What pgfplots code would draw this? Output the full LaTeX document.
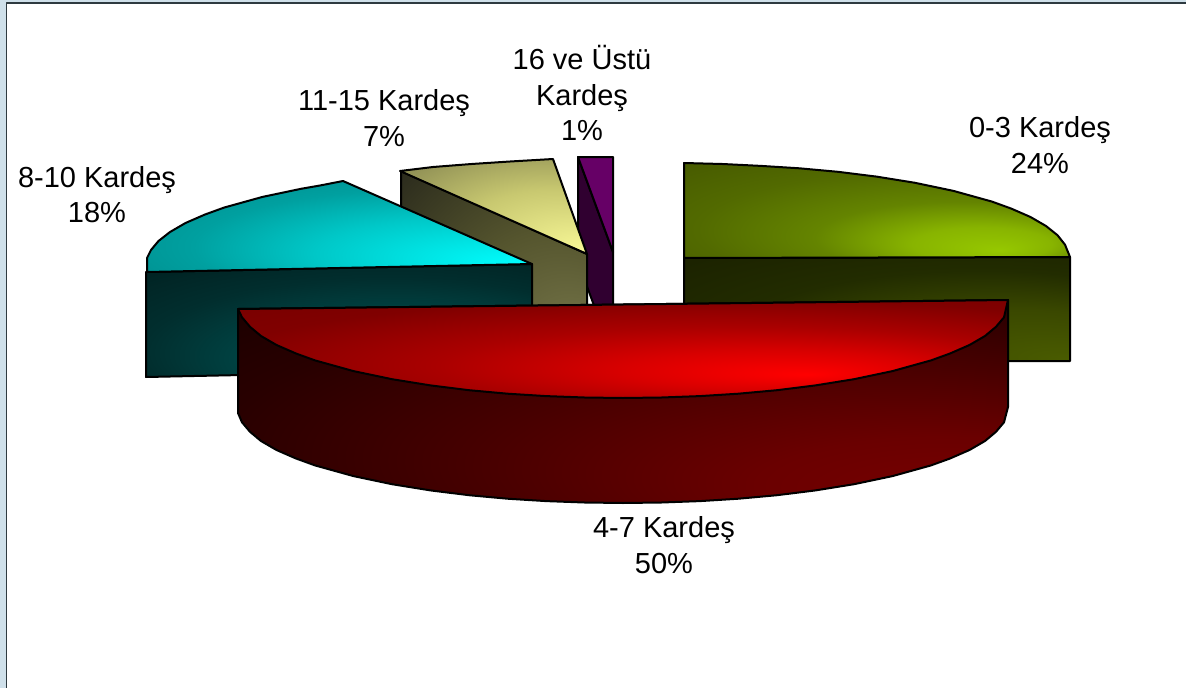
\documentclass[border=0pt]{standalone}
\usepackage{pgfplots}
\pgfplotsset{compat=1.18}
\usepackage{fontspec}
\setmainfont{Liberation Sans}
\definecolor{c00}{HTML}{96C800}\definecolor{c01}{HTML}{88B400}\definecolor{c02}{HTML}{648400}\definecolor{c03}{HTML}{526A00}\definecolor{c04}{HTML}{485C00}
\pgfdeclareradialshading{greentop}{\pgfpoint{16bp}{-21bp}}{color(0bp)=(c00);color(9bp)=(c01);color(19bp)=(c02);color(31bp)=(c03);color(42bp)=(c04);color(60bp)=(c04)}
\definecolor{s00}{HTML}{4A5C00}\definecolor{s01}{HTML}{3A4800}\definecolor{s02}{HTML}{222C00}\definecolor{s03}{HTML}{1A2000}\definecolor{s04}{HTML}{141A00}
\pgfdeclareradialshading{greenside}{\pgfpoint{25bp}{-25bp}}{color(0bp)=(s00);color(18bp)=(s01);color(32bp)=(s02);color(50bp)=(s03);color(70bp)=(s04)}
\definecolor{r00}{HTML}{FF0000}\definecolor{r01}{HTML}{D80000}\definecolor{r02}{HTML}{AA0000}\definecolor{r03}{HTML}{800000}\definecolor{r04}{HTML}{700000}
\pgfdeclareradialshading{redtop}{\pgfpoint{12bp}{-13bp}}{color(0bp)=(r00);color(10bp)=(r01);color(20bp)=(r02);color(32bp)=(r03);color(50bp)=(r04);color(60bp)=(r04)}
\definecolor{q00}{HTML}{7A0000}\definecolor{q01}{HTML}{6A0000}\definecolor{q02}{HTML}{480000}\definecolor{q03}{HTML}{280000}\definecolor{q04}{HTML}{1A0000}
\pgfdeclareradialshading{redside}{\pgfpoint{25bp}{-25bp}}{color(0bp)=(q00);color(12bp)=(q01);color(25bp)=(q02);color(38bp)=(q03);color(47bp)=(q04);color(70bp)=(q04)}
\definecolor{b00}{HTML}{00FFFF}\definecolor{b01}{HTML}{00C8C8}\definecolor{b02}{HTML}{00A0A0}\definecolor{b03}{HTML}{007F7F}
\pgfdeclareradialshading{cyantop}{\pgfpoint{24bp}{-21bp}}{color(0bp)=(b00);color(20bp)=(b01);color(32bp)=(b02);color(52bp)=(b03);color(70bp)=(b03)}
\definecolor{d00}{HTML}{005A5A}\definecolor{d01}{HTML}{004444}\definecolor{d02}{HTML}{012E2E}\definecolor{d03}{HTML}{001E1E}
\pgfdeclareradialshading{cyanside}{\pgfpoint{12bp}{-25bp}}{color(0bp)=(d00);color(20bp)=(d01);color(32bp)=(d02);color(48bp)=(d03);color(70bp)=(d03)}
\definecolor{o00}{HTML}{FAFA98}\definecolor{o01}{HTML}{C8C870}\definecolor{o02}{HTML}{7B7B4B}
\pgfdeclareradialshading{olivetop}{\pgfpoint{25bp}{-25bp}}{color(0bp)=(o00);color(25bp)=(o01);color(50bp)=(o02);color(70bp)=(o02)}
\definecolor{p00}{HTML}{7B7B4E}\definecolor{p01}{HTML}{55552E}\definecolor{p02}{HTML}{25251A}
\pgfdeclareradialshading{oliveside}{\pgfpoint{25bp}{-25bp}}{color(0bp)=(p00);color(25bp)=(p01);color(50bp)=(p02);color(70bp)=(p02)}
\definecolor{framebg}{HTML}{CFE0EA}\definecolor{frameln}{HTML}{2E3A40}
\definecolor{purptop}{HTML}{660066}\definecolor{purpside}{HTML}{300030}
\tikzset{lbl/.style={anchor=base,font=\fontsize{29}{34}\selectfont,inner sep=0pt,text=black}}
\begin{document}
\begin{tikzpicture}
\begin{axis}[
  at={(0,0)},anchor=south west,scale only axis,width=1186pt,height=688pt,
  xmin=0,xmax=1186,ymin=0,ymax=688,y dir=reverse,hide axis,clip=true,
  every axis plot/.append style={no markers,line width=2pt,draw=black,line join=round}]
% frame
\addplot[draw=none,fill=framebg] coordinates {(0,0)(1186,0)(1186,2)(6,2)(6,688)(0,688)} -- cycle;
\addplot[draw=frameln,line width=1.4pt] coordinates {(6.5,688)(6.5,3)(1186,3)};
% 16 ve ustu
\addplot[fill=purpside] coordinates {(578,157)(613,252)(613,357)(578,262)} -- cycle;
\addplot[fill=purptop] coordinates {(578,157)(613,157)(613,252)} -- cycle;
% 11-15
\addplot[shading=oliveside] coordinates {(401,171)(587,254)(587,359)(401,276)} -- cycle;
\addplot[shading=olivetop] coordinates {(400,171)(433,167)(471.5,164)(510,161.5)(553,159)(587,254)} -- cycle;
% 8-10
\addplot[shading=cyanside] coordinates {(146,272)(532,264)(532,369)(146,377)} -- cycle;
\addplot[shading=cyantop] coordinates {(147,272)(147,258)(151,250)(158.5,241)(170,232)(185.5,223)(205,214.5)(224,207.6)(262.5,196.9)(301,188.8)(320,185.5)(343,181)(532,264)} -- cycle;
% 0-3
\addplot[shading=greenside] coordinates {(684,258)(1070,257)(1070,361)(684,361)} -- cycle;
\addplot[shading=greentop] coordinates {(684,163)(722.5,164)(761,165.9)(799.5,168.3)(838,171.8)(876.5,176.6)(915,182.8)(953.5,190.9)(992,201.6)(1011,208.5)(1030.5,217)(1046,226)(1057.5,235.2)(1065,244.7)(1070,257)(684,258)} -- cycle;
% 4-7
\addplot[shading=redside] coordinates {(238,309)(1008,300)(1008,407)(1004,422.3)(996,431.8)(985,441)(969.5,450)(950,458.5)(931,465.4)(892.5,476.1)(854,484.2)(815.5,490.4)(777,495.2)(738.5,498.7)(700,501.1)(661.5,502.5)(623,503)(584.5,502.5)(546,501.1)(507.5,498.7)(469,495.2)(430.5,490.4)(392,484.2)(353.5,476.1)(315,465.4)(296,458.5)(276.5,450)(261,441)(250,431.8)(242,422.3)(238,413)} -- cycle;
\addplot[shading=redtop] coordinates {(238,309)(242,317.3)(250,326.8)(261,336)(276.5,345)(296,353.5)(315,360.4)(353.5,371.1)(392,379.2)(430.5,385.4)(469,390.2)(507.5,393.7)(546,396.1)(584.5,397.5)(623,398)(661.5,397.5)(700,396.1)(738.5,393.7)(777,390.2)(815.5,385.4)(854,379.2)(892.5,371.1)(931,360.4)(950,353.5)(969.5,345)(985,336)(996,326.8)(1004,317.3)(1008,300)} -- cycle;
% labels
\node[lbl] at (axis cs:582,69) {16 ve Üstü};
\node[lbl] at (axis cs:582,105) {Kardeş};
\node[lbl] at (axis cs:582,140) {1\%};
\node[lbl] at (axis cs:384,110) {11-15 Kardeş};
\node[lbl] at (axis cs:384,146) {7\%};
\node[lbl] at (axis cs:97,187) {8-10 Kardeş};
\node[lbl] at (axis cs:97,222) {18\%};
\node[lbl] at (axis cs:1040,137) {0-3 Kardeş};
\node[lbl] at (axis cs:1040,173) {24\%};
\node[lbl] at (axis cs:664,537) {4-7 Kardeş};
\node[lbl] at (axis cs:664,573) {50\%};
\end{axis}
\end{tikzpicture}
\end{document}
